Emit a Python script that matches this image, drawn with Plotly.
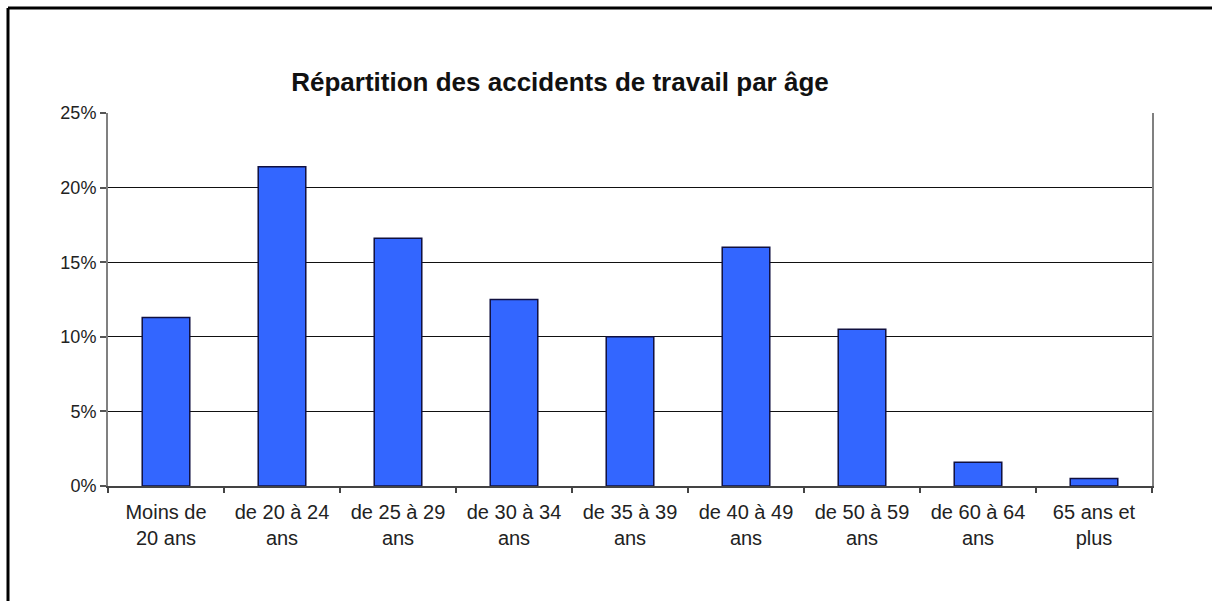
import plotly.graph_objects as go

categories = ["Moins de<br>20 ans", "de 20 à 24<br>ans", "de 25 à 29<br>ans", "de 30 à 34<br>ans",
              "de 35 à 39<br>ans", "de 40 à 49<br>ans", "de 50 à 59<br>ans", "de 60 à 64<br>ans",
              "65 ans et<br>plus"]
values = [0.113, 0.214, 0.166, 0.125, 0.100, 0.160, 0.105, 0.016, 0.005]
tick_vals = [0, 0.05, 0.10, 0.15, 0.20, 0.25]
tick_text = ["0%", "5%", "10%", "15%", "20%", "25%"]
title_text = "Répartition des accidents de travail par âge"

W, H = 1212, 601
L, R, T, B = 108, 1152, 113, 486

fig = go.Figure(go.Bar(
    x=categories, y=values,
    marker=dict(color="#3366FF", line=dict(color="#101040", width=1.5)),
    width=0.41,
))

font_family = "Liberation Sans, Arial, sans-serif"

fig.update_layout(
    width=W, height=H,
    margin=dict(l=L, r=W - R, t=T, b=H - B, pad=0),
    paper_bgcolor="white", plot_bgcolor="white",
    showlegend=False,
    font=dict(family=font_family, size=16, color="#222"),
    title=dict(text="<b>" + title_text + "</b>", x=560 / W, xanchor="center",
               xref="container", y=1 - 82 / H, yanchor="middle", yref="container",
               font=dict(family=font_family, size=26, color="#111")),
)
fig.update_yaxes(
    range=[0, 0.25], tickvals=tick_vals, ticktext=tick_text,
    showgrid=True, gridcolor="#111", gridwidth=1,
    showline=True, linecolor="#808080", linewidth=2, mirror=True,
    ticks="outside", ticklen=6, tickcolor="#555", tickwidth=1.5,
    tickfont=dict(size=18, color="#222"), zeroline=False,
)
fig.update_xaxes(
    showline=True, linecolor="#444", linewidth=2,
    ticks="outside", ticklen=5, tickcolor="#444", tickwidth=1.5,
    tickson="boundaries", tickfont=dict(size=20, color="#222"),
    ticklabelstandoff=7,
)

# outer frame (left and top edges, visible in the reference)
px = lambda v: (v - L) / (R - L)
py = lambda v: (B - v) / (B - T)
fig.add_shape(type="line", xref="paper", yref="paper", x0=px(8), x1=px(8), y0=py(8), y1=py(H),
              line=dict(color="black", width=3))
fig.add_shape(type="line", xref="paper", yref="paper", x0=px(8), x1=px(W), y0=py(8), y1=py(8),
              line=dict(color="black", width=3))

fig.write_html("out.html", config={"displayModeBar": False},
               post_script="document.body.style.margin='0px';document.body.style.overflow='hidden';")
